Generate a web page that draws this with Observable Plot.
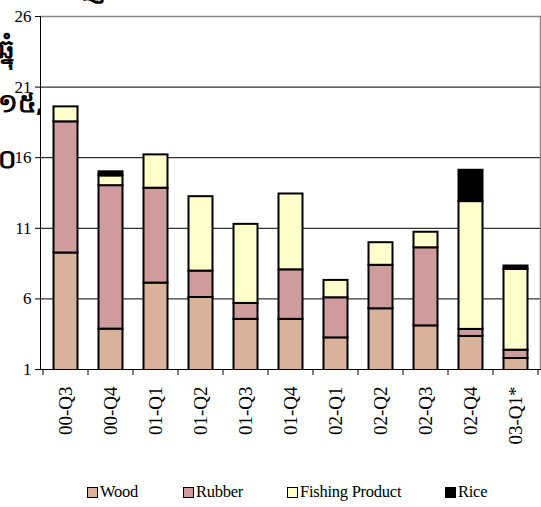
<!DOCTYPE html>
<html><head><meta charset="utf-8">
<script src="https://cdn.jsdelivr.net/npm/d3@7"></script>
<script src="https://cdn.jsdelivr.net/npm/@observablehq/plot@0.6"></script>
<style>
body{margin:0;background:#fff;}
#wrap{position:relative;width:541px;height:507px;overflow:hidden;font-family:"Liberation Serif",serif;}
.kh{position:absolute;left:-2px;font-weight:bold;font-size:26px;white-space:nowrap;color:#000;font-family:"Noto Sans","DejaVu Sans",sans-serif;}
#chart{position:absolute;left:0;top:0;}
#chart svg, #chart svg text{font-family:"Liberation Serif",serif !important;}
.lg{position:absolute;top:484px;font-size:16.5px;line-height:16px;display:flex;align-items:center;white-space:nowrap;letter-spacing:-0.25px;font-family:"Liberation Serif",serif;}
.lg i{display:inline-block;width:9px;height:9px;border:1px solid #000;margin-right:2px;}
</style></head>
<body><div id="wrap">
<div class="kh" style="top:-31px">ការនាំចេញ ។</div>
<div class="kh" style="top:30px">ឆ្នុំ</div>
<div class="kh" style="top:84px">១៥,០០០</div>
<div class="kh" style="top:140px">០</div>
<div id="chart"></div>
<div id="legend"></div>
</div>
<script>
const quarters = ["00-Q3","00-Q4","01-Q1","01-Q2","01-Q3","01-Q4","02-Q1","02-Q2","02-Q3","02-Q4","03-Q1*"];
const wood    = [9.25, 3.86, 7.12, 6.10, 4.55, 4.55, 3.24, 5.30, 4.09, 3.34, 1.78];
const rubber  = [9.29,10.16, 6.72, 1.87, 1.13, 3.51, 2.84, 3.08, 5.53, 0.50, 0.59];
const fishing = [1.06, 0.69, 2.36, 5.27, 5.60, 5.37, 1.23, 1.60, 1.10, 9.05, 5.72];
const rice    = [0.00, 0.29, 0.00, 0.00, 0.00, 0.00, 0.00, 0.00, 0.00, 2.22, 0.24];
const seriesNames = ["Wood","Rubber","Fishing Product","Rice"];
const seriesColors = ["#D8B29B","#CF9C9E","#FFFFCC","#000000"];
const yTicks = [1,6,11,16,21,26];
const gridTicks = [6,11,16,21];

const seriesValues = [wood, rubber, fishing, rice];
const rows = [];
seriesNames.forEach((s, si) => quarters.forEach((q, qi) => {
  if (seriesValues[si][qi] > 0) rows.push({q, s, v: seriesValues[si][qi]});
}));

const W = 541, H = 465;
const plot = Plot.plot({
  width: W, height: H,
  marginLeft: 40, marginRight: 1, marginTop: 16, marginBottom: 96,
  style: {background: "transparent", color: "#000"},
  x: {domain: quarters, padding: 0, label: null},
  y: {domain: [1, 26], label: null},
  color: {domain: seriesNames, range: seriesColors},
  marks: [
    Plot.frame({fill: "#fff", stroke: "none"}),
    Plot.ruleY(gridTicks, {stroke: "#000", strokeWidth: 1}),
    Plot.frame({anchor: "top", stroke: "#888", strokeWidth: 1.5}),
    Plot.frame({anchor: "right", stroke: "#888", strokeWidth: 1.5}),
    Plot.barY(rows, Plot.stackY({x: "q", y: "v", fill: "s", stroke: "#000", strokeWidth: 2, insetLeft: 10.5, insetRight: 10.5, clip: true})),
    Plot.axisY({ticks: yTicks, tickSize: 5, tickPadding: 4, fontSize: 17, label: null}),
    Plot.axisX({tickSize: 0, tickRotate: -90, tickPadding: 17, fontSize: 19, label: null}),
    Plot.frame({anchor: "left", stroke: "#000", strokeWidth: 1}),
    Plot.frame({anchor: "bottom", stroke: "#000", strokeWidth: 1})
  ]
});
document.getElementById("chart").appendChild(plot);

// category boundary ticks on the x axis
const xs = plot.scale("x"), ys = plot.scale("y");
const bounds = quarters.map(q => xs.apply(q)).concat([xs.apply(quarters[quarters.length-1]) + xs.bandwidth]);
const y0 = ys.apply(1);
d3.select(plot).append("g").selectAll("line").data(bounds).join("line")
  .attr("x1", d => d).attr("x2", d => d).attr("y1", y0).attr("y2", y0 + 6)
  .attr("stroke", "#000").attr("stroke-width", 1);

// legend
const legendLeft = [87, 183, 287, 445];
const lg = document.getElementById("legend");
seriesNames.forEach((s, i) => {
  const d = document.createElement("div");
  d.className = "lg";
  d.style.left = legendLeft[i] + "px";
  d.innerHTML = `<i style="background:${seriesColors[i]}"></i>${s}`;
  lg.appendChild(d);
});
</script>
</body></html>
